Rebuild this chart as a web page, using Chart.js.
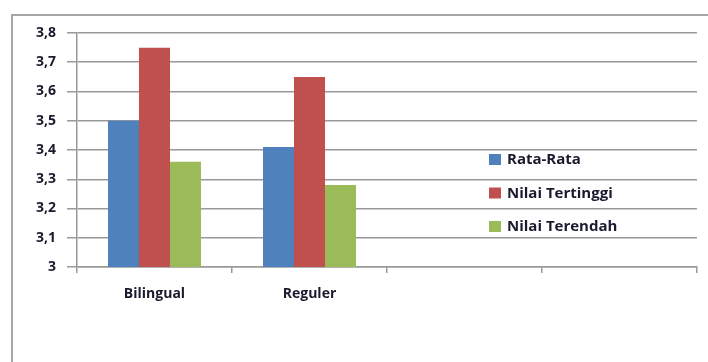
<!DOCTYPE html>
<html>
<head>
<meta charset="utf-8">
<script src="https://cdn.jsdelivr.net/npm/chart.js@4"></script>
<style>
  body { margin: 0; background: #fff; }
</style>
</head>
<body>
<canvas id="grafik" width="708" height="362"></canvas>
<script>
const kategori = ['Bilingual', 'Reguler', '', ''];
const rataRata = [3.5, 3.41];
const nilaiTertinggi = [3.75, 3.65];
const nilaiTerendah = [3.36, 3.28];

const abu = '#999999';
const hurufLabel = { family: 'Open Sans', size: 14, weight: 'bold' };

// Bingkai abu-abu di sekeliling grafik
const bingkai = {
  id: 'bingkai',
  beforeDraw(chart) {
    const ctx = chart.ctx;
    ctx.save();
    ctx.strokeStyle = '#a6a6a6';
    ctx.lineWidth = 2;
    ctx.strokeRect(12, 15, 720, 400);
    ctx.restore();
  }
};

// Legenda di dalam area plot, seperti di Excel
const legendaExcel = {
  id: 'legendaExcel',
  afterDraw(chart) {
    const ctx = chart.ctx;
    ctx.save();
    ctx.font = 'bold 15px "Open Sans"';
    ctx.textBaseline = 'middle';
    chart.data.datasets.forEach((ds, i) => {
      const y = 160 + i * 33.5;
      ctx.fillStyle = ds.backgroundColor;
      ctx.fillRect(489, y - 6, 12, 11);
      ctx.fillStyle = '#1a1a2e';
      ctx.fillText(ds.label, 507, y);
    });
    ctx.restore();
  }
};

new Chart(document.getElementById('grafik'), {
  type: 'bar',
  data: {
    labels: kategori,
    datasets: [
      { label: 'Rata-Rata', data: rataRata, backgroundColor: '#4F81BD' },
      { label: 'Nilai Tertinggi', data: nilaiTertinggi, backgroundColor: '#C0504D' },
      { label: 'Nilai Terendah', data: nilaiTerendah, backgroundColor: '#9BBB59' }
    ]
  },
  options: {
    responsive: false,
    animation: false,
    layout: { padding: { top: 33, right: 11, left: 0, bottom: 0 } },
    datasets: { bar: { categoryPercentage: 0.6, barPercentage: 1 } },
    plugins: {
      legend: { display: false },
      tooltip: { enabled: false }
    },
    scales: {
      x: {
        afterFit(scale) { scale.height = 95; },
        grid: { offset: true, drawOnChartArea: false, tickLength: 6, color: abu, lineWidth: 1.5 },
        border: { color: abu, width: 1.5 },
        ticks: { color: '#1a1a2e', font: hurufLabel, padding: 13, maxRotation: 0 }
      },
      y: {
        min: 3,
        max: 3.8,
        afterFit(scale) { scale.width = 77; },
        grid: { tickLength: 10, color: abu, lineWidth: 1.5 },
        border: { color: abu, width: 1.5 },
        ticks: {
          stepSize: 0.1,
          color: '#1a1a2e',
          font: hurufLabel,
          padding: 11,
          callback: v => String(Number(v.toFixed(1))).replace('.', ',')
        }
      }
    }
  },
  plugins: [bingkai, legendaExcel]
});
</script>
</body>
</html>
